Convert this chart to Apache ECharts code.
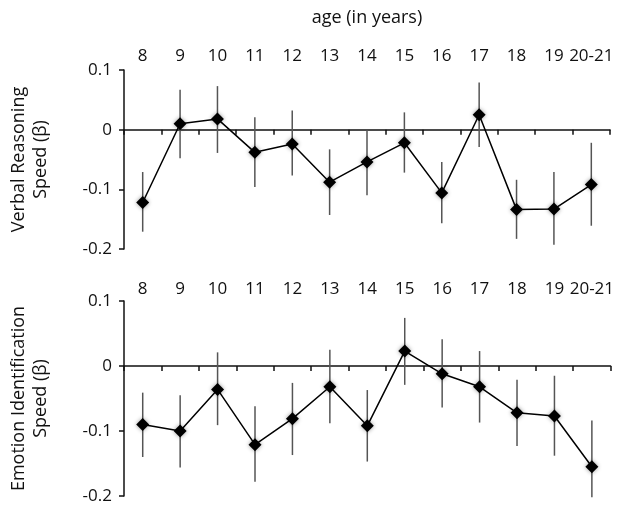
<!DOCTYPE html>
<html>
<head>
<meta charset="utf-8">
<script src="https://cdn.jsdelivr.net/npm/echarts@6/dist/echarts.min.js"></script>
<style>
  html, body { margin: 0; padding: 0; background: #fff; }
  #chart { width: 617px; height: 505px; }
</style>
</head>
<body>
<div id="chart"></div>
<script>
// 年龄分组
var ages = ['8', '9', '10', '11', '12', '13', '14', '15', '16', '17', '18', '19', '20-21'];

// Verbal Reasoning Speed (β)
var verbalMean = [-0.122, 0.010, 0.018, -0.038, -0.024, -0.088, -0.054, -0.022, -0.106, 0.025, -0.134, -0.133, -0.092];
var verbalLow  = [-0.171, -0.048, -0.039, -0.096, -0.077, -0.143, -0.110, -0.072, -0.157, -0.029, -0.183, -0.193, -0.161];
var verbalHigh = [-0.071, 0.067, 0.073, 0.021, 0.032, -0.033, 0.000, 0.029, -0.054, 0.079, -0.084, -0.071, -0.022];

// Emotion Identification Speed (β)
var emotionMean = [-0.090, -0.100, -0.036, -0.121, -0.081, -0.032, -0.092, 0.023, -0.012, -0.032, -0.072, -0.077, -0.155];
var emotionLow  = [-0.140, -0.156, -0.091, -0.178, -0.137, -0.088, -0.147, -0.029, -0.064, -0.087, -0.123, -0.138, -0.202];
var emotionHigh = [-0.041, -0.045, 0.021, -0.062, -0.026, 0.025, -0.037, 0.074, 0.041, 0.023, -0.021, -0.015, -0.084];

var yTicks = [-0.2, -0.1, 0, 0.1];

var FONT = '"Open Sans", sans-serif';

var myChart = echarts.init(document.getElementById('chart'));

function bars(low, high) {
    return low.map(function (v, i) { return [i, v, high[i]]; });
}

function errorBar(params, api) {
    var x = api.value(0);
    var lo = api.coord([x, api.value(1)]);
    var hi = api.coord([x, api.value(2)]);
    return {
        type: 'line',
        shape: { x1: lo[0], y1: lo[1], x2: hi[0], y2: hi[1] },
        style: { stroke: '#555', lineWidth: 1.5 }
    };
}

function labelAxis(grid, margin, name) {
    return {
        type: 'category',
        gridIndex: grid,
        data: ages,
        position: 'top',
        axisLine: { show: false, onZero: false },
        axisTick: { show: false },
        axisLabel: { interval: 0, margin: margin, fontSize: 17, color: '#111', fontFamily: FONT },
        name: name,
        nameLocation: 'middle',
        nameGap: 43,
        nameTextStyle: { fontSize: 18, color: '#111', fontFamily: FONT }
    };
}

function zeroAxis(grid) {
    return {
        type: 'category',
        gridIndex: grid,
        data: ages,
        position: 'bottom',
        axisLine: { onZero: true, onZeroAxisIndex: grid, lineStyle: { color: '#111', width: 1.5 } },
        axisTick: { show: true, interval: 0, length: 5, lineStyle: { color: '#111', width: 1.5 } },
        axisLabel: { show: false }
    };
}

function valueAxis(grid, name) {
    return {
        type: 'value',
        gridIndex: grid,
        min: yTicks[0],
        max: yTicks[yTicks.length - 1],
        interval: 0.1,
        axisLine: { show: true, onZero: false, lineStyle: { color: '#111', width: 1.5 } },
        axisTick: { show: true, length: 5, lineStyle: { color: '#111', width: 1.5 } },
        splitLine: { show: false },
        axisLabel: {
            margin: 12, fontSize: 17, color: '#111', fontFamily: FONT,
            formatter: function (v) { return String(+v.toFixed(1)); }
        },
        name: name,
        nameLocation: 'middle',
        nameRotate: 90,
        nameGap: 72,
        nameTextStyle: { fontSize: 18, color: '#111', fontFamily: FONT, lineHeight: 22 }
    };
}

function meanLine(xi, yi, data) {
    return {
        type: 'line',
        xAxisIndex: xi,
        yAxisIndex: yi,
        data: data,
        symbol: 'diamond',
        symbolSize: 13,
        z: 3,
        lineStyle: { color: '#000', width: 1.5 },
        itemStyle: { color: '#000', shadowBlur: 4, shadowColor: 'rgba(0,0,0,0.4)' }
    };
}

var option = {
    animation: false,
    grid: [
        { left: 123, top: 70, width: 487, height: 179 },
        { left: 123, top: 301, width: 488, height: 195 }
    ],
    xAxis: [
        labelAxis(0, 5, 'age (in years)'),
        zeroAxis(0),
        labelAxis(1, 3, ''),
        zeroAxis(1)
    ],
    yAxis: [
        valueAxis(0, 'Verbal Reasoning\nSpeed (β)'),
        valueAxis(1, 'Emotion Identification\nSpeed (β)')
    ],
    series: [
        { type: 'custom', xAxisIndex: 0, yAxisIndex: 0, renderItem: errorBar, encode: { x: 0, y: [1, 2] }, data: bars(verbalLow, verbalHigh), z: 2 },
        meanLine(0, 0, verbalMean),
        { type: 'custom', xAxisIndex: 2, yAxisIndex: 1, renderItem: errorBar, encode: { x: 0, y: [1, 2] }, data: bars(emotionLow, emotionHigh), z: 2 },
        meanLine(2, 1, emotionMean)
    ]
};
myChart.setOption(option);
</script>
</body>
</html>
